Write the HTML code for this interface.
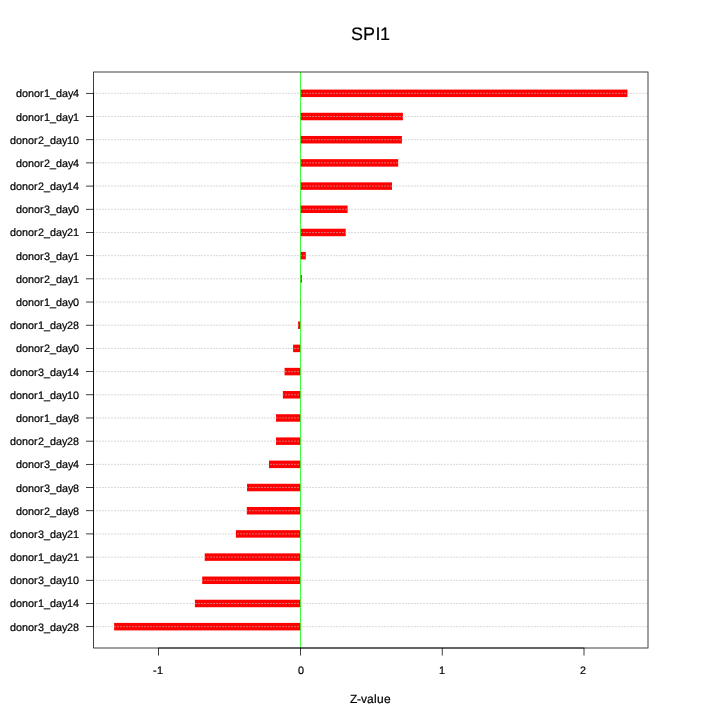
<!DOCTYPE html><html><head><meta charset="utf-8"><title>SPI1</title><style>html,body{margin:0;padding:0;background:#fff;width:720px;height:720px;overflow:hidden}svg{display:block;will-change:transform}text{text-rendering:geometricPrecision;font-family:"Liberation Sans",Arial,Helvetica,sans-serif;fill:#000;stroke:#000;stroke-width:0.22px}</style></head><body>
<svg width="720" height="720" viewBox="0 0 720 720">
<g fill="#f00">
<rect x="300.4" y="89.583" width="327.06" height="7.5"/>
<rect x="300.4" y="112.772" width="102.5" height="7.5"/>
<rect x="300.4" y="135.96" width="101.5" height="7.5"/>
<rect x="300.4" y="159.149" width="97.8" height="7.5"/>
<rect x="300.4" y="182.337" width="91.6" height="7.5"/>
<rect x="300.4" y="205.525" width="47.2" height="7.5"/>
<rect x="300.4" y="228.714" width="45.3" height="7.5"/>
<rect x="300.4" y="251.902" width="5.4" height="7.5"/>
<rect x="300.4" y="275.091" width="1.5" height="7.5"/>
<rect x="300.4" y="298.279" width="0.4" height="7.5"/>
<rect x="298.1" y="321.467" width="2.3" height="7.5"/>
<rect x="293.1" y="344.656" width="7.3" height="7.5"/>
<rect x="284.6" y="367.844" width="15.8" height="7.5"/>
<rect x="282.9" y="391.033" width="17.5" height="7.5"/>
<rect x="276" y="414.221" width="24.4" height="7.5"/>
<rect x="276" y="437.409" width="24.4" height="7.5"/>
<rect x="269" y="460.598" width="31.4" height="7.5"/>
<rect x="247.05" y="483.786" width="53.35" height="7.5"/>
<rect x="246.8" y="506.975" width="53.6" height="7.5"/>
<rect x="235.9" y="530.163" width="64.5" height="7.5"/>
<rect x="204.7" y="553.351" width="95.7" height="7.5"/>
<rect x="202.2" y="576.54" width="98.2" height="7.5"/>
<rect x="194.9" y="599.728" width="105.5" height="7.5"/>
<rect x="114.13" y="622.917" width="186.27" height="7.5"/>
</g>
<g stroke="#bebebe" stroke-width="0.75" stroke-dasharray="0.75 2.25" stroke-linecap="round" fill="none">
<line x1="93.6" y1="93.333" x2="648" y2="93.333"/>
<line x1="93.6" y1="116.522" x2="648" y2="116.522"/>
<line x1="93.6" y1="139.71" x2="648" y2="139.71"/>
<line x1="93.6" y1="162.899" x2="648" y2="162.899"/>
<line x1="93.6" y1="186.087" x2="648" y2="186.087"/>
<line x1="93.6" y1="209.275" x2="648" y2="209.275"/>
<line x1="93.6" y1="232.464" x2="648" y2="232.464"/>
<line x1="93.6" y1="255.652" x2="648" y2="255.652"/>
<line x1="93.6" y1="278.841" x2="648" y2="278.841"/>
<line x1="93.6" y1="302.029" x2="648" y2="302.029"/>
<line x1="93.6" y1="325.217" x2="648" y2="325.217"/>
<line x1="93.6" y1="348.406" x2="648" y2="348.406"/>
<line x1="93.6" y1="371.594" x2="648" y2="371.594"/>
<line x1="93.6" y1="394.783" x2="648" y2="394.783"/>
<line x1="93.6" y1="417.971" x2="648" y2="417.971"/>
<line x1="93.6" y1="441.159" x2="648" y2="441.159"/>
<line x1="93.6" y1="464.348" x2="648" y2="464.348"/>
<line x1="93.6" y1="487.536" x2="648" y2="487.536"/>
<line x1="93.6" y1="510.725" x2="648" y2="510.725"/>
<line x1="93.6" y1="533.913" x2="648" y2="533.913"/>
<line x1="93.6" y1="557.101" x2="648" y2="557.101"/>
<line x1="93.6" y1="580.29" x2="648" y2="580.29"/>
<line x1="93.6" y1="603.478" x2="648" y2="603.478"/>
<line x1="93.6" y1="626.667" x2="648" y2="626.667"/>
</g>
<g fill="#0f0"><rect x="300.025" y="72" width="0.75" height="576"/></g>
<g fill="#000">
<rect x="93.225" y="71.625" width="0.75" height="576.75"/>
<rect x="647.625" y="71.625" width="0.75" height="576.75"/>
<rect x="93.975" y="71.625" width="553.65" height="0.75"/>
<rect x="93.975" y="647.625" width="553.65" height="0.75"/>
<rect x="158.225" y="647.625" width="426.15" height="0.75"/>
<rect x="158.225" y="648" width="0.75" height="7.575"/>
<rect x="300.025" y="648" width="0.75" height="7.575"/>
<rect x="441.825" y="648" width="0.75" height="7.575"/>
<rect x="583.625" y="648" width="0.75" height="7.575"/>
<rect x="93.225" y="92.958" width="0.75" height="534.083"/>
<rect x="86.025" y="92.958" width="7.575" height="0.75"/>
<rect x="86.025" y="116.147" width="7.575" height="0.75"/>
<rect x="86.025" y="139.335" width="7.575" height="0.75"/>
<rect x="86.025" y="162.524" width="7.575" height="0.75"/>
<rect x="86.025" y="185.712" width="7.575" height="0.75"/>
<rect x="86.025" y="208.9" width="7.575" height="0.75"/>
<rect x="86.025" y="232.089" width="7.575" height="0.75"/>
<rect x="86.025" y="255.277" width="7.575" height="0.75"/>
<rect x="86.025" y="278.466" width="7.575" height="0.75"/>
<rect x="86.025" y="301.654" width="7.575" height="0.75"/>
<rect x="86.025" y="324.842" width="7.575" height="0.75"/>
<rect x="86.025" y="348.031" width="7.575" height="0.75"/>
<rect x="86.025" y="371.219" width="7.575" height="0.75"/>
<rect x="86.025" y="394.408" width="7.575" height="0.75"/>
<rect x="86.025" y="417.596" width="7.575" height="0.75"/>
<rect x="86.025" y="440.784" width="7.575" height="0.75"/>
<rect x="86.025" y="463.973" width="7.575" height="0.75"/>
<rect x="86.025" y="487.161" width="7.575" height="0.75"/>
<rect x="86.025" y="510.35" width="7.575" height="0.75"/>
<rect x="86.025" y="533.538" width="7.575" height="0.75"/>
<rect x="86.025" y="556.726" width="7.575" height="0.75"/>
<rect x="86.025" y="579.915" width="7.575" height="0.75"/>
<rect x="86.025" y="603.103" width="7.575" height="0.75"/>
<rect x="86.025" y="626.292" width="7.575" height="0.75"/>
</g>
<text x="16 22 28 34 40 44 50 56 62 68 73" y="97" font-size="10.8">donor1_day4</text>
<text x="16 22 28 34 40 44 50 56 62 68 73" y="121" font-size="10.8">donor1_day1</text>
<text x="10 16 22 28 34 38 44 50 56 62 67 73" y="144" font-size="10.8">donor2_day10</text>
<text x="16 22 28 34 40 44 50 56 62 68 73" y="167" font-size="10.8">donor2_day4</text>
<text x="10 16 22 28 34 38 44 50 56 62 67 73" y="190" font-size="10.8">donor2_day14</text>
<text x="16 22 28 34 40 44 50 56 62 68 73" y="213" font-size="10.8">donor3_day0</text>
<text x="10 16 22 28 34 38 44 50 56 62 67 73" y="236" font-size="10.8">donor2_day21</text>
<text x="16 22 28 34 40 44 50 56 62 68 73" y="260" font-size="10.8">donor3_day1</text>
<text x="16 22 28 34 40 44 50 56 62 68 73" y="283" font-size="10.8">donor2_day1</text>
<text x="16 22 28 34 40 44 50 56 62 68 73" y="306" font-size="10.8">donor1_day0</text>
<text x="10 16 22 28 34 38 44 50 56 62 67 73" y="329" font-size="10.8">donor1_day28</text>
<text x="16 22 28 34 40 44 50 56 62 68 73" y="352" font-size="10.8">donor2_day0</text>
<text x="10 16 22 28 34 38 44 50 56 62 67 73" y="376" font-size="10.8">donor3_day14</text>
<text x="10 16 22 28 34 38 44 50 56 62 67 73" y="399" font-size="10.8">donor1_day10</text>
<text x="16 22 28 34 40 44 50 56 62 68 73" y="422" font-size="10.8">donor1_day8</text>
<text x="10 16 22 28 34 38 44 50 56 62 67 73" y="445" font-size="10.8">donor2_day28</text>
<text x="16 22 28 34 40 44 50 56 62 68 73" y="468" font-size="10.8">donor3_day4</text>
<text x="16 22 28 34 40 44 50 56 62 68 73" y="492" font-size="10.8">donor3_day8</text>
<text x="16 22 28 34 40 44 50 56 62 68 73" y="515" font-size="10.8">donor2_day8</text>
<text x="10 16 22 28 34 38 44 50 56 62 67 73" y="538" font-size="10.8">donor3_day21</text>
<text x="10 16 22 28 34 38 44 50 56 62 67 73" y="561" font-size="10.8">donor1_day21</text>
<text x="10 16 22 28 34 38 44 50 56 62 67 73" y="584" font-size="10.8">donor3_day10</text>
<text x="10 16 22 28 34 38 44 50 56 62 67 73" y="607" font-size="10.8">donor1_day14</text>
<text x="10 16 22 28 34 38 44 50 56 62 67 73" y="631" font-size="10.8">donor3_day28</text>
<text x="153 157" y="674" font-size="10.8">-1</text>
<text x="298" y="674" font-size="10.8">0</text>
<text x="439" y="674" font-size="10.8">1</text>
<text x="580" y="674" font-size="10.8">2</text>
<text x="350 357 361 367 374 377 384" y="703" font-size="12">Z-value</text>
<text x="351 363 375.5 380" y="40" font-size="18" style="stroke-width:0.15px">SPI1</text>
</svg></body></html>
